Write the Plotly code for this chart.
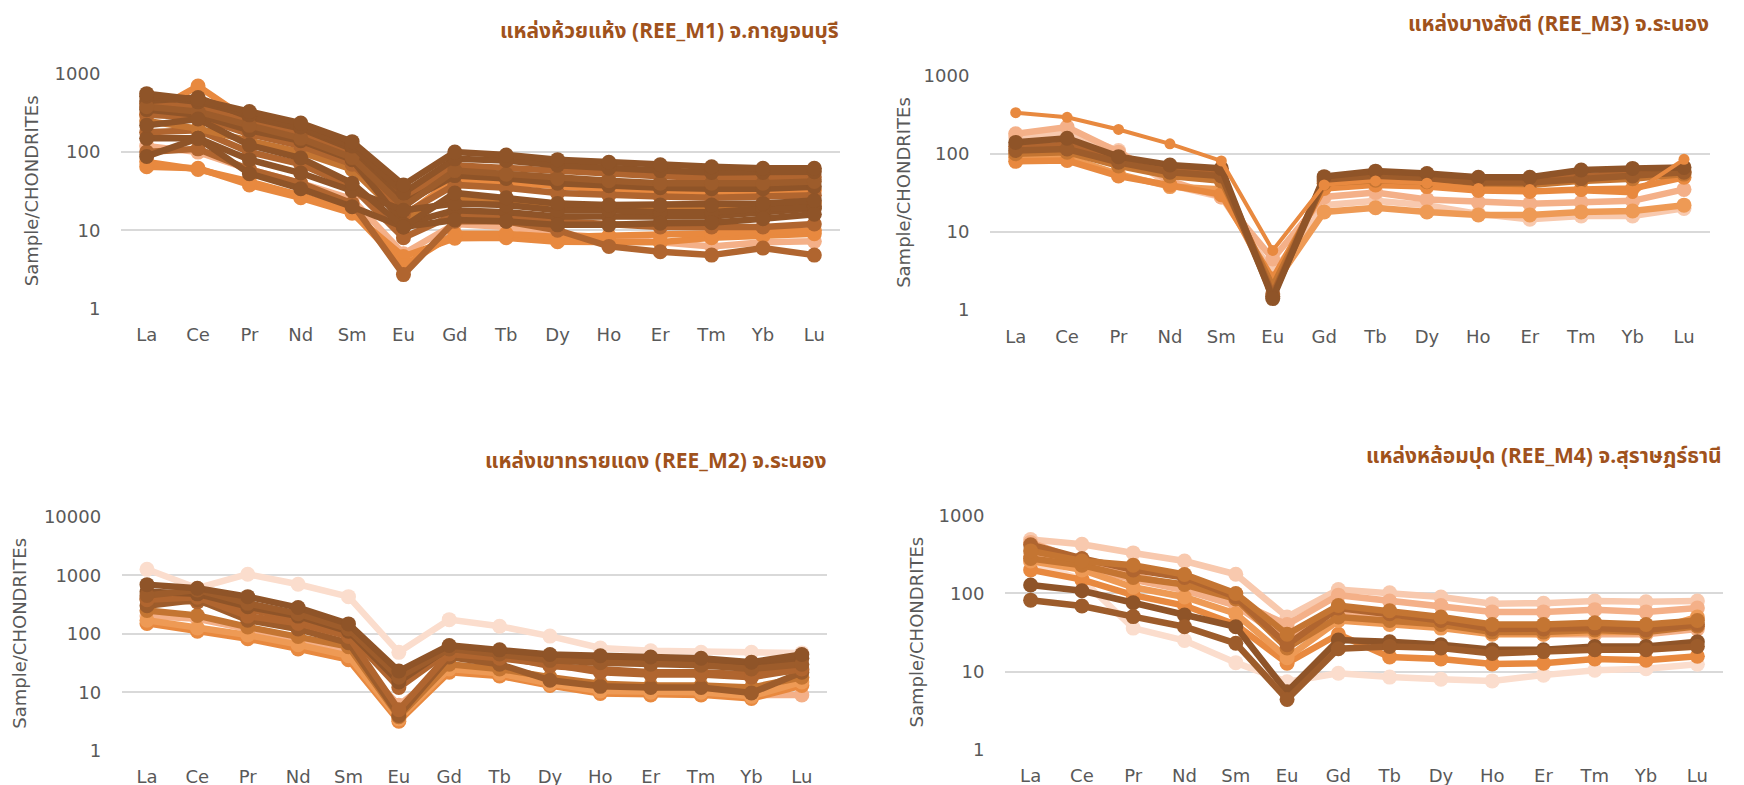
import plotly.graph_objects as go

ELEMENTS = ["La", "Ce", "Pr", "Nd", "Sm", "Eu", "Gd", "Tb", "Dy", "Ho", "Er", "Tm", "Yb", "Lu"]

TITLES = [
    "แหล่งห้วยแห้ง (REE_M1) จ.กาญจนบุรี",
    "แหล่งบางสังตี (REE_M3) จ.ระนอง",
    "แหล่งเขาทรายแดง (REE_M2) จ.ระนอง",
    "แหล่งหล้อมปุด (REE_M4) จ.สุราษฎร์ธานี",
]
Y_TITLE = "Sample/CHONDRITEs"

# ---- REE_M1 (top-left) ----
M1 = [
    [120, 100, 60, 40, 25, 5.0, 12, 11, 9.0, 8.0, 7.0, 6.2, 7.0, 7.2],
    [65, 62, 38, 26, 16.5, 4.6, 7.9, 8.0, 7.1, 7.0, 7.0, 8.0, 8.5, 9.0],
    [75, 60, 42, 28, 17, 3.5, 9.0, 9.0, 8.2, 8.5, 8.5, 9.0, 9.5, 10],
    [300, 700, 250, 160, 90, 15, 45, 40, 36, 33, 31, 30, 30, 32],
    [100, 110, 60, 40, 22, 2.7, 13, 13, 10, 6.2, 5.3, 4.8, 5.9, 4.8],
    [180, 190, 100, 70, 36, 8.0, 16, 15, 13, 12, 11, 11, 11, 12],
    [250, 200, 140, 100, 60, 14, 26, 24, 22, 20, 20, 20, 21, 22],
    [300, 280, 170, 120, 70, 16, 38, 35, 30, 28, 27, 26, 27, 28],
    [420, 380, 260, 180, 100, 25, 68, 63, 56, 52, 49, 47, 47, 48],
    [350, 300, 190, 140, 80, 12, 18, 17, 15, 15, 15, 15, 17, 19],
    [450, 500, 280, 200, 110, 22, 50, 46, 40, 37, 35, 34, 34, 36],
    [380, 330, 220, 150, 85, 20, 58, 52, 46, 43, 40, 40, 40, 42],
    [520, 440, 300, 210, 120, 30, 82, 78, 68, 62, 58, 55, 55, 56],
    [560, 470, 330, 235, 136, 38, 100, 92, 80, 74, 69, 65, 62, 62],
    [150, 150, 80, 54, 32, 18, 22, 21, 18, 18, 17, 17, 19, 20],
    [88, 150, 53, 34, 20, 11, 13.5, 13, 11.7, 11.7, 12.3, 12.5, 14, 16],
    [220, 265, 123, 84, 40, 11, 30, 26, 22, 21, 21, 21, 22, 24],
]
M1_COLORS = ["peach", "orange", "orange", "orange", "mid", "mid", "mid2", "mid", "mid",
             "dark", "dark", "dark2", "dark", "dark", "dark", "dark", "dark"]

# ---- REE_M3 (top-right) ----
M3 = [
    [160, 190, 110, 40, 28, 3.0, 22, 25, 22, 17, 14.5, 16, 16, 20],
    [180, 220, 105, 45, 28, 4.5, 28, 32, 26, 24, 23, 24, 25, 35],
    [90, 90, 55, 38, 35, 2.0, 18, 20.4, 18, 16.5, 16.5, 18, 18.5, 22],
    [80, 82, 52, 40, 30, 2.5, 36, 40, 38, 34, 33, 35, 36, 50],
    [100, 105, 70, 52, 45, 2.0, 42, 46, 44, 40, 40, 45, 48, 55],
    [125, 130, 85, 62, 58, 1.6, 48, 52, 50, 45, 46, 52, 55, 60],
    [110, 115, 78, 58, 52, 1.5, 45, 50, 48, 43, 43, 48, 52, 58],
    [140, 158, 92, 72, 65, 1.4, 51, 60, 56, 50, 50, 62, 65, 67],
    [336, 293, 205, 134, 81, 5.8, 40, 45, 42, 36, 35, 33, 31, 85],
]
M3_COLORS = ["light", "peach", "orange2", "orange", "mid2", "mid", "dark2", "dark", "orange"]

# ---- REE_M2 (bottom-left) ----
M2 = [
    [1260, 600, 1040, 700, 430, 48, 174, 134, 91, 57, 51, 48, 48, 47],
    [200, 180, 120, 80, 50, 6.0, 28, 22, 15, 11, 10, 10, 9.0, 9.0],
    [150, 110, 82, 55, 36, 3.2, 22, 19, 13, 9.5, 9.0, 9.0, 7.8, 13],
    [170, 125, 95, 65, 42, 3.5, 25, 21, 14, 10.5, 10, 10, 8.5, 15],
    [250, 205, 130, 90, 60, 3.8, 30, 25, 18, 14, 13, 13, 12, 18],
    [400, 350, 260, 180, 100, 12, 50, 42, 28, 25, 22, 22, 20, 24],
    [300, 380, 170, 120, 70, 4.0, 40, 30, 16, 12.6, 12, 12, 9.7, 22],
    [380, 420, 200, 150, 90, 5.0, 45, 38, 30, 22, 20, 20, 18, 25],
    [520, 480, 290, 200, 110, 15, 58, 48, 40, 36, 34, 33, 28, 38],
    [450, 560, 330, 220, 120, 18, 55, 45, 35, 32, 30, 29, 25, 30],
    [690, 600, 430, 280, 147, 23, 63, 53, 44, 42, 40, 38, 32.5, 44],
]
M2_COLORS = ["vlight", "peach", "orange", "orange2", "mid2", "mid", "dark2", "mid",
             "dark", "dark2", "dark"]

# ---- REE_M4 (bottom-right) ----
M4 = [
    [490, 425, 330, 260, 176, 50, 112, 102, 90, 74, 75, 80, 78, 80],
    [250, 150, 36, 25, 13, 7.4, 9.5, 8.5, 8.0, 7.6, 9.0, 10.4, 10.9, 12.4],
    [450, 260, 170, 120, 80, 40, 95, 80, 70, 58, 58, 62, 58, 65],
    [300, 220, 150, 110, 70, 25, 55, 48, 40, 32, 30, 30, 30, 35],
    [200, 150, 95, 70, 40, 12.8, 30, 15.4, 14.5, 12.5, 12.8, 14.5, 14, 15.7],
    [260, 200, 120, 90, 55, 15, 45, 40, 36, 30, 30, 32, 32, 50],
    [280, 230, 160, 130, 85, 20, 50, 45, 40, 32, 32, 34, 32, 38],
    [420, 280, 200, 160, 90, 22, 65, 55, 45, 35, 35, 36, 34, 40],
    [350, 260, 230, 175, 100, 30, 70, 60, 50, 40, 40, 42, 40, 45],
    [128, 108, 76, 53, 37.5, 5.5, 25.4, 24, 22, 19, 19, 21, 21, 24],
    [82, 69, 50.5, 37.5, 23, 4.4, 19.6, 21, 20, 17, 18, 19, 19, 21],
]
M4_COLORS = ["light", "vlight", "peach", "peach", "orange", "orange2", "mid2", "mid",
             "mid2", "dark", "dark2"]

PALETTE = {
    "dark": "#8F5428",
    "dark2": "#9D5C2B",
    "mid": "#B0652F",
    "mid2": "#C47532",
    "orange": "#E8893F",
    "orange2": "#EE9A55",
    "peach": "#F4B088",
    "light": "#F8C9AE",
    "vlight": "#FBDDCD",
}

W, H = 1744, 785
OFF = 8  # page body margin offset


def px_x(v):
    return (v - OFF) / W


def px_y(v):
    return 1 - (v - OFF) / H


PANELS = [
    (M1, M1_COLORS, [121, 840], [308.3, 74], [0, 3]),
    (M3, M3_COLORS, [990, 1709.7], [310, 75.7], [0, 3]),
    (M2, M2_COLORS, [121.8, 827], [750.7, 516.7], [0, 4]),
    (M4, M4_COLORS, [1005, 1723], [749.7, 515.3], [0, 3]),
]

TITLE_Y = [31.7, 24.5, 461.7, 456.7]
YLAB_X = [31, 904, 20, 916]

fig = go.Figure()
TICK_FONT = dict(family="'DejaVu Sans', sans-serif", size=18, color="#595959")

for i, (data, colors, xs, ys, yr) in enumerate(PANELS):
    n = i + 1
    xa = "x" if n == 1 else f"x{n}"
    ya = "y" if n == 1 else f"y{n}"
    xd = [px_x(xs[0]), px_x(xs[1])]
    yd = [px_y(ys[0]), px_y(ys[1])]
    for j, (vals, cname) in enumerate(zip(data, colors)):
        thin = (n == 2 and j == len(data) - 1)
        fig.add_trace(go.Scatter(
            x=ELEMENTS, y=vals, mode="lines+markers",
            line=dict(color=PALETTE[cname], width=4 if thin else 6.5),
            marker=dict(color=PALETTE[cname], size=11 if thin else 15),
            xaxis=xa, yaxis=ya, showlegend=False, hoverinfo="skip",
        ))
    tickvals = [10 ** k for k in range(yr[0], yr[1] + 1)]
    fig.layout[f"xaxis{'' if n == 1 else n}"] = dict(
        domain=xd, anchor=ya, type="category", range=[-0.5, 13.5],
        showgrid=False, showline=False, zeroline=False, automargin=False,
        ticks="outside", ticklen=10, tickcolor="rgba(0,0,0,0)",
        tickfont=TICK_FONT,
    )
    fig.layout[f"yaxis{'' if n == 1 else n}"] = dict(
        domain=yd, anchor=xa, type="log", range=yr, automargin=False,
        tickvals=tickvals, ticktext=[str(v) for v in tickvals],
        showgrid=True, gridcolor="#D9D9D9", gridwidth=2,
        showline=False, zeroline=False,
        ticks="outside", ticklen=16, tickcolor="rgba(0,0,0,0)",
        tickfont=TICK_FONT,
    )
    fig.add_annotation(
        text="<b>" + TITLES[i] + "</b>", xref="paper", yref="paper",
        x=xd[1], y=px_y(TITLE_Y[i]), xanchor="right", yanchor="middle",
        showarrow=False, borderpad=0,
        font=dict(family="'Noto Sans Thai', 'Noto Sans', sans-serif", size=21, color="#A0521C"),
    )
    fig.add_annotation(
        text=Y_TITLE, xref="paper", yref="paper",
        x=px_x(YLAB_X[i]), y=(yd[0] + yd[1]) / 2, xanchor="center", yanchor="middle",
        textangle=-90, showarrow=False,
        font=dict(family="'DejaVu Sans', sans-serif", size=18, color="#595959"),
    )

fig.update_layout(
    width=W, height=H,
    margin=dict(l=0, r=0, t=0, b=0),
    paper_bgcolor="white", plot_bgcolor="white",
)

fig.write_html("out.html")
